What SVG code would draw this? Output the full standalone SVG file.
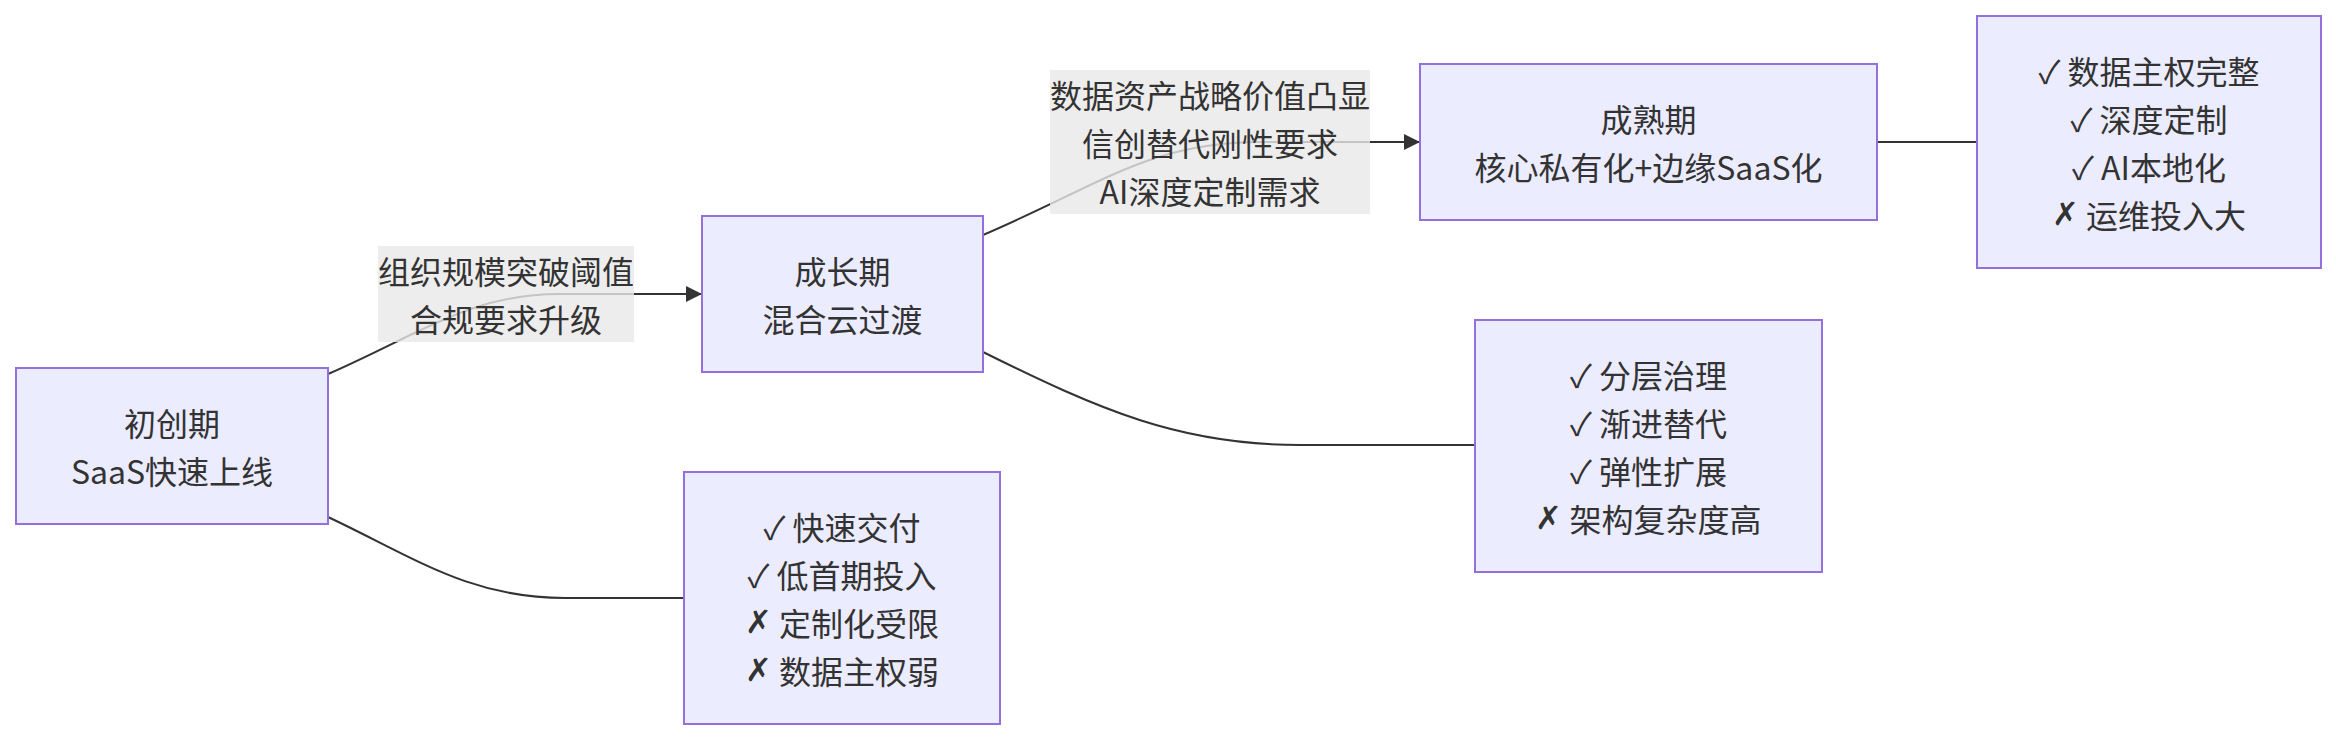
<svg xmlns="http://www.w3.org/2000/svg" width="2336" height="740" viewBox="0 0 2336 740">
<style>
  .node rect { fill: #ECECFF; stroke: #9370DB; stroke-width: 2; }
  .node text, .elabel text { font-family: "Noto Sans CJK SC", "DejaVu Sans", sans-serif; font-size: 32px; fill: #333333; text-anchor: middle; dominant-baseline: central; }
  .x { font-family: "DejaVu Sans", sans-serif; font-weight: 200; }
  .edge { fill: none; stroke: #333333; stroke-width: 2; }
  .elabel rect { fill: rgba(232,232,232,0.8); stroke: none; }
</style>
<defs>
  <marker id="arrow" markerUnits="userSpaceOnUse" markerWidth="16" markerHeight="16" refX="16" refY="8" orient="auto">
    <path d="M0,0 L16,8 L0,16 z" fill="#333333"/>
  </marker>
</defs>
<rect width="2336" height="740" fill="#ffffff"/>
<g id="connectors">
  <path class="edge" d="M328,374 C420,334 470,294 560,294 L702,294" marker-end="url(#arrow)"/>
  <path class="edge" d="M983,235 C1100,185 1150,142 1260,142 L1420,142" marker-end="url(#arrow)"/>
  <path class="edge" d="M1877,142 L1977,142"/>
  <path class="edge" d="M983,352 C1100,410 1180,445 1300,445 L1475,445"/>
  <path class="edge" d="M328,517 C415,558 470,598 565,598 L684,598"/>
</g>
<g id="edge-labels">
  <g class="elabel" id="label-1">
    <rect x="378" y="246" width="256" height="96"/>
    <text><tspan x="506" y="270">组织规模突破阈值</tspan><tspan x="506" y="318">合规要求升级</tspan></text>
  </g>
  <g class="elabel" id="label-2">
    <rect x="1050" y="70" width="320" height="144"/>
    <text><tspan x="1210" y="94">数据资产战略价值凸显</tspan><tspan x="1210" y="142">信创替代刚性要求</tspan><tspan x="1210" y="190">AI深度定制需求</tspan></text>
  </g>
</g>
<g id="node-startup" class="node">
  <rect x="16" y="368" width="312" height="156"/>
  <text><tspan x="172" y="422">初创期</tspan><tspan x="172" y="470">SaaS快速上线</tspan></text>
</g>
<g id="node-growth" class="node">
  <rect x="702" y="216" width="281" height="156"/>
  <text><tspan x="842.5" y="270">成长期</tspan><tspan x="842.5" y="318">混合云过渡</tspan></text>
</g>
<g id="node-startup-traits" class="node">
  <rect x="684" y="472" width="316" height="252"/>
  <text><tspan x="842" y="526">✓ 快速交付</tspan><tspan x="842" y="574">✓ 低首期投入</tspan><tspan x="842" y="622"><tspan class="x">✗</tspan> 定制化受限</tspan><tspan x="842" y="670"><tspan class="x">✗</tspan> 数据主权弱</tspan></text>
</g>
<g id="node-mature" class="node">
  <rect x="1420" y="64" width="457" height="156"/>
  <text><tspan x="1648.5" y="118">成熟期</tspan><tspan x="1648.5" y="166">核心私有化+边缘SaaS化</tspan></text>
</g>
<g id="node-growth-traits" class="node">
  <rect x="1475" y="320" width="347" height="252"/>
  <text><tspan x="1648.5" y="374">✓ 分层治理</tspan><tspan x="1648.5" y="422">✓ 渐进替代</tspan><tspan x="1648.5" y="470">✓ 弹性扩展</tspan><tspan x="1648.5" y="518"><tspan class="x">✗</tspan> 架构复杂度高</tspan></text>
</g>
<g id="node-mature-traits" class="node">
  <rect x="1977" y="16" width="344" height="252"/>
  <text><tspan x="2149" y="70">✓ 数据主权完整</tspan><tspan x="2149" y="118">✓ 深度定制</tspan><tspan x="2149" y="166">✓ AI本地化</tspan><tspan x="2149" y="214"><tspan class="x">✗</tspan> 运维投入大</tspan></text>
</g>
</svg>
